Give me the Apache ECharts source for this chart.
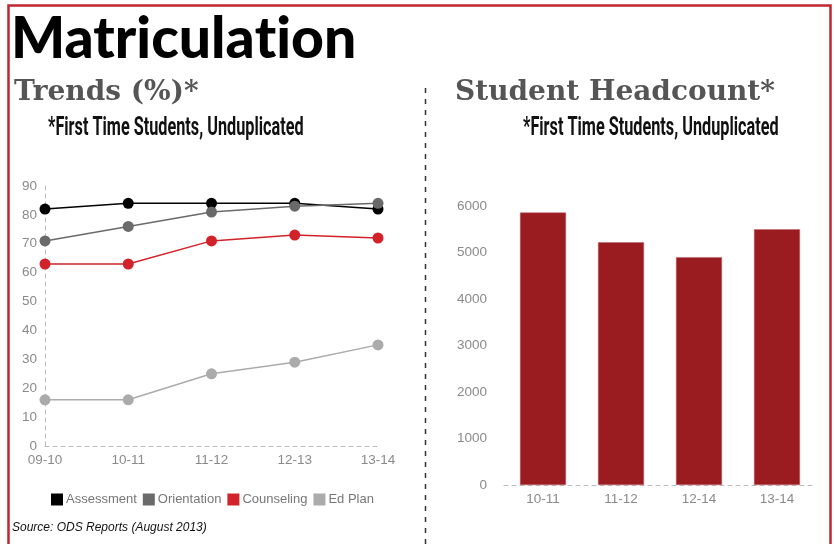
<!DOCTYPE html>
<html>
<head>
<meta charset="utf-8">
<script src="https://cdn.jsdelivr.net/npm/echarts@6/dist/echarts.min.js"></script>
<style>
html,body{margin:0;padding:0;background:#fff;}
#c{width:835px;height:544px;}
</style>
</head>
<body>
<div id="c"></div>
<script>
const years = ['09-10','10-11','11-12','12-13','13-14'];
const assessment = [82, 84, 84, 84, 82];
const orientation = [71, 76, 81, 83, 84];
const counseling = [63, 63, 71, 73, 72];
const edPlan = [16, 16, 25, 29, 35];
const headcountCats = ['10-11','11-12','12-14','13-14'];
const headcount = [5860, 5220, 4900, 5500];

const chart = echarts.init(document.getElementById('c'));
const grey = '#8a8a8a';
function lineSeries(name, data, color){
  return {
    name, type:'line', data, xAxisIndex:0, yAxisIndex:0,
    symbol:'circle', symbolSize:11, color,
    lineStyle:{width:1.5,color}, itemStyle:{color}
  };
}
const titleFont = {fill:'#000', font:'900 60px Lato'};
chart.setOption({
  backgroundColor:'#fff',
  animation:false,
  grid:[
    {left:45, right:457, top:186, bottom:98, containLabel:false},
    {left:504, right:19, top:206, bottom:59, containLabel:false}
  ],
  xAxis:[
    {gridIndex:0, type:'category', data:years, boundaryGap:false,
     axisLine:{lineStyle:{color:'#bbb', type:[4,4], width:1}},
     axisTick:{show:false},
     axisLabel:{color:grey, fontSize:13.5, margin:7, fontFamily:'Liberation Sans'}},
    {gridIndex:1, type:'category', data:headcountCats,
     axisLine:{lineStyle:{color:'#bbb', type:[4,4], width:1}},
     axisTick:{show:false},
     axisLabel:{color:grey, fontSize:13.5, margin:7, fontFamily:'Liberation Sans'}}
  ],
  yAxis:[
    {gridIndex:0, type:'value', min:0, max:90, interval:10,
     axisLine:{show:true, lineStyle:{color:'#bbb', type:[4,4], width:1}},
     axisTick:{show:false}, splitLine:{show:false},
     axisLabel:{color:grey, fontSize:13.5, margin:8, fontFamily:'Liberation Sans'}},
    {gridIndex:1, type:'value', min:0, max:6000, interval:1000,
     axisLine:{show:false}, axisTick:{show:false}, splitLine:{show:false},
     axisLabel:{color:grey, fontSize:13.5, margin:17, fontFamily:'Liberation Sans',
       formatter:function(v){return String(v);}}}
  ],
  legend:{
    data:['Assessment','Orientation','Counseling','Ed Plan'],
    left:46, top:488, icon:'rect', itemWidth:12, itemHeight:12, itemGap:6,
    textStyle:{color:'#777', fontSize:13, fontFamily:'Liberation Sans', padding:[0,0,0,-2]}
  },
  series:[
    lineSeries('Assessment', assessment, '#000000'),
    lineSeries('Orientation', orientation, '#6a6a6a'),
    lineSeries('Counseling', counseling, '#d2232a'),
    lineSeries('Ed Plan', edPlan, '#ababab'),
    {name:'Headcount', type:'bar', data:headcount, xAxisIndex:1, yAxisIndex:1,
     barWidth:46, itemStyle:{color:'#9a1b20', borderColor:'#b9656a', borderWidth:0.5}}
  ],
  graphic:[
    {type:'rect', shape:{x:8.5, y:5.5, width:822, height:600},
     style:{fill:null, stroke:'#c0272f', lineWidth:2.5}, z:100},
    {type:'text', x:11, y:11, scaleX:0.95, scaleY:0.96,
     style:{text:'{a|Matricula}{a|t}{a|ion}', rich:{a:titleFont}, fill:'#000', font:'900 60px Lato', textVerticalAlign:'top'}},
    {type:'text', x:14, y:79,
     style:{text:'Trends (%)*', fill:'#555', font:'bold 28px "DejaVu Serif"', textVerticalAlign:'top'}},
    {type:'text', x:455, y:79,
     style:{text:'Student Headcount*', fill:'#555', font:'bold 28px "DejaVu Serif"', textVerticalAlign:'top'}},
    {type:'text', x:48, y:116, scaleX:0.65,
     style:{text:'*First Time Students, Unduplicated', fill:'#111', font:'bold 25px Roboto', textVerticalAlign:'top'}},
    {type:'text', x:523, y:116, scaleX:0.65,
     style:{text:'*First Time Students, Unduplicated', fill:'#111', font:'bold 25px Roboto', textVerticalAlign:'top'}},
    {type:'line', shape:{x1:425.5, y1:88, x2:425.5, y2:544},
     style:{stroke:'#333', lineWidth:1.5, lineDash:[5,6]}},
    {type:'text', x:12, y:522,
     style:{text:'Source: ODS Reports (August 2013)', fill:'#111', font:'italic 12px "Liberation Sans"', textVerticalAlign:'top'}}
  ]
});
</script>
</body>
</html>
